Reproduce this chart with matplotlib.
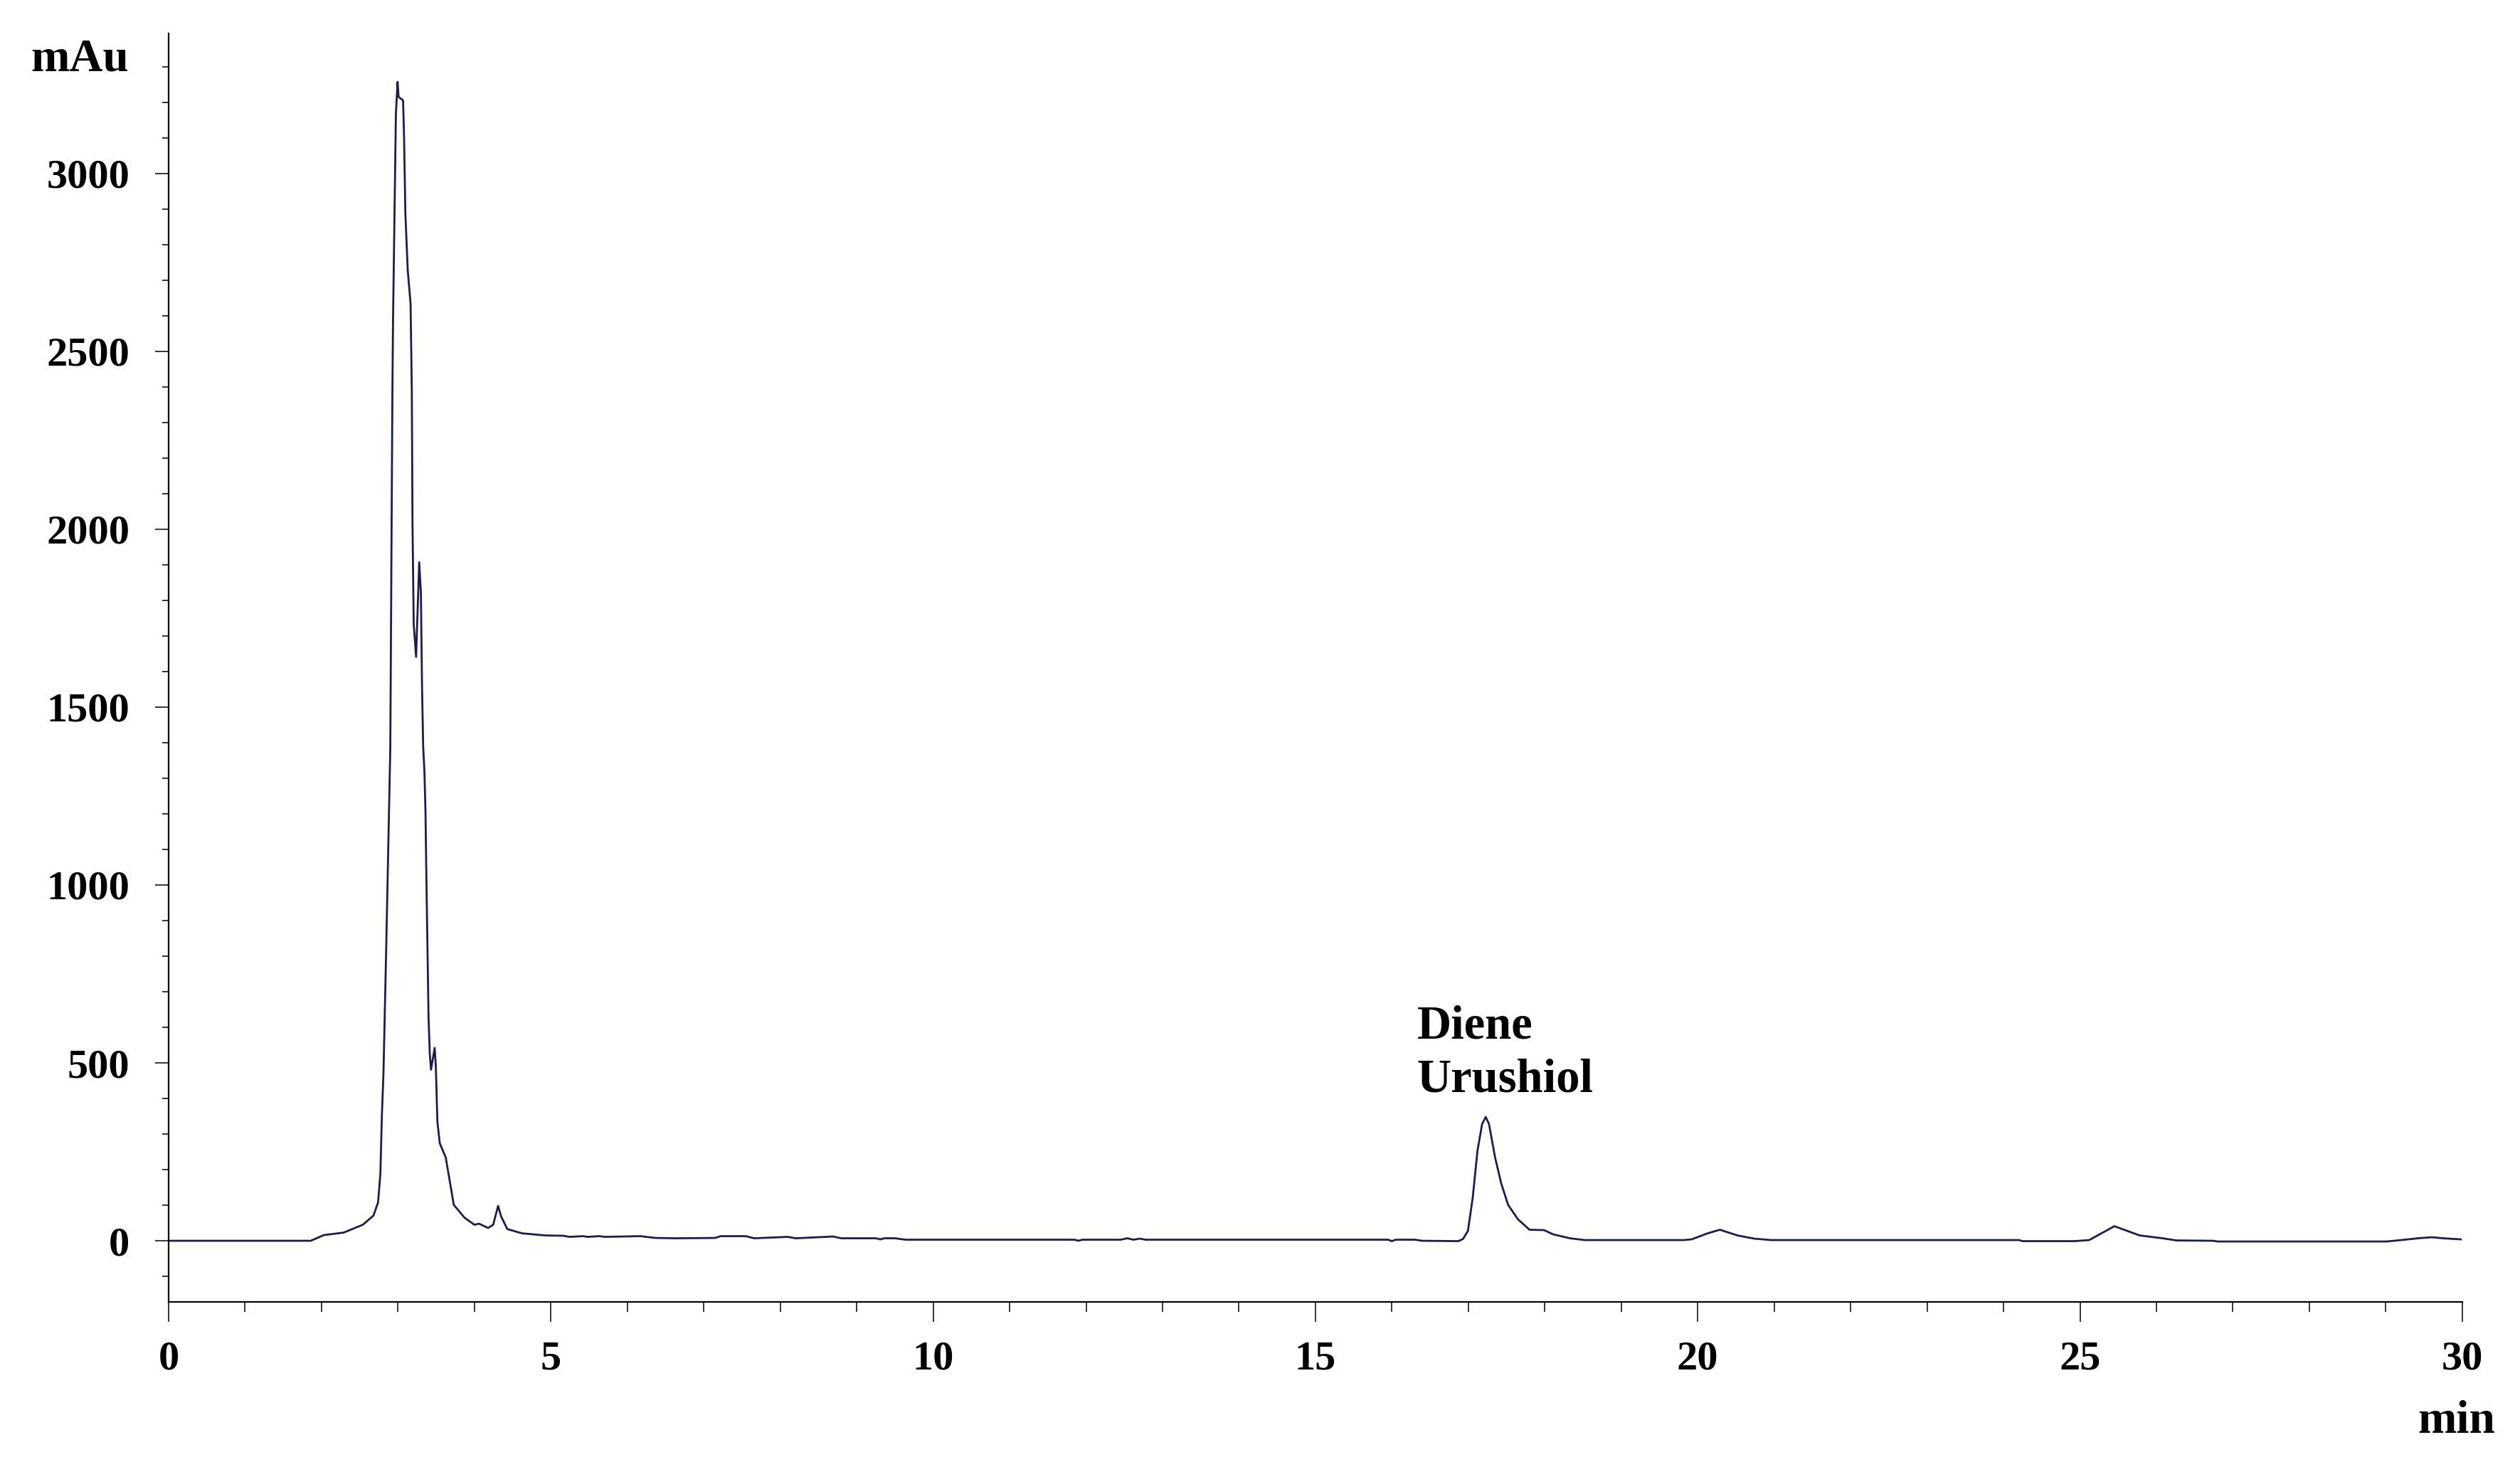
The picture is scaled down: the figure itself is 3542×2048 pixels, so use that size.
import matplotlib
matplotlib.use("Agg")
import matplotlib.pyplot as plt
from matplotlib.ticker import MultipleLocator

# Retention time (min) and absorbance (mAu)
time_min = [0.0, 1.86, 2.03, 2.29, 2.54, 2.68, 2.74, 2.77, 2.79, 2.81, 2.825, 2.843,
            2.865, 2.90, 2.927, 2.936, 2.958, 2.973, 2.995, 3.008, 3.067, 3.08,
            3.097, 3.128, 3.165, 3.181, 3.19, 3.206, 3.237, 3.278, 3.30, 3.315,
            3.33, 3.346, 3.36, 3.37, 3.386, 3.40, 3.416, 3.432, 3.48, 3.495,
            3.516, 3.547, 3.625, 3.73, 3.87, 4.00, 4.06, 4.18, 4.245, 4.31, 4.35,
            4.43, 4.62, 4.93, 5.17, 5.24, 5.42, 5.48, 5.64, 5.70, 6.17, 6.37,
            6.63, 7.15, 7.22, 7.55, 7.66, 8.10, 8.20, 8.69, 8.80, 9.25, 9.31,
            9.36, 9.50, 9.64, 11.85, 11.9, 11.95, 12.45, 12.54, 12.62, 12.70,
            12.78, 15.95, 16.0, 16.05, 16.30, 16.40, 16.87, 16.93, 16.995,
            17.057, 17.12, 17.18, 17.228, 17.27, 17.35, 17.43, 17.52, 17.646,
            17.80, 17.99, 18.11, 18.33, 18.52, 19.82, 19.92, 20.13, 20.29, 20.52,
            20.74, 20.96, 24.2, 24.25, 24.93, 25.12, 25.45, 25.78, 26.08, 26.26,
            26.74, 26.8, 29.01, 29.2, 29.42, 29.6, 29.75, 29.98]
signal_mau = [0, 0, 16, 23, 45, 71, 108, 188, 354, 468, 612, 788,
              1021, 1387, 2380, 2594, 2940, 3167, 3257, 3215, 3205, 3100,
              2887, 2727, 2634, 2390, 2021, 1734, 1641, 1907, 1821, 1554,
              1387, 1321, 1207, 1047, 821, 628, 527, 481, 542, 491,
              334, 274, 234, 101, 65, 45, 48, 36, 45, 98, 68,
              33, 21, 15, 14, 11, 13, 11, 13, 11, 13, 8,
              7, 8, 13, 13, 7, 11, 7, 12, 7, 7, 4,
              7, 7, 3, 3, 0, 3, 3, 7, 3, 6,
              3, 3, -1, 3, 3, 0, -1, 5, 28,
              121, 254, 328, 348, 328, 234, 161, 101, 61,
              31, 30, 18, 7, 2, 2, 4, 21, 31, 15,
              6, 2, 2, -1, -1, 2, 41, 15, 7, 1,
              0, -2, -2, 2, 7, 10, 7, 4]

x_ticks = [0, 5, 10, 15, 20, 25, 30]
y_ticks = [0, 500, 1000, 1500, 2000, 2500, 3000]
peak_label = ["Diene", "Urushiol"]

FONT = "Liberation Serif"
LINE_COLOR = "#1c1c4f"

fig = plt.figure(figsize=(35.42, 20.48), dpi=100)
ax = fig.add_axes([0.0669, 0.1064, 0.9102, 0.8706])

ax.plot(time_min, signal_mau, color=LINE_COLOR, linewidth=2.0, solid_joinstyle="round")

ax.set_xlim(0, 30)
ax.set_ylim(-172, 3393)

for side in ("top", "right"):
    ax.spines[side].set_visible(False)
for side in ("left", "bottom"):
    ax.spines[side].set_linewidth(1.6)
    ax.spines[side].set_color("black")

ax.set_xticks(x_ticks)
ax.set_xticklabels([str(v) for v in x_ticks])
ax.set_yticks(y_ticks)
ax.set_yticklabels([str(v) for v in y_ticks])
ax.xaxis.set_minor_locator(MultipleLocator(1))
ax.yaxis.set_minor_locator(MultipleLocator(100))

ax.tick_params(axis="x", which="major", direction="out", length=20, width=1.1, pad=19)
ax.tick_params(axis="x", which="minor", direction="out", length=10, width=1.1)
ax.tick_params(axis="y", which="major", direction="out", length=13.5, width=1.1, pad=26)
ax.tick_params(axis="y", which="minor", direction="out", length=6.5, width=1.1)

for lab in ax.get_xticklabels() + ax.get_yticklabels():
    lab.set_fontfamily(FONT)
    lab.set_fontweight("bold")
    lab.set_fontsize(42)

# Axis unit labels
fig.text(181 / 3542, 1 - 99 / 2048, "mAu", ha="right", va="baseline",
         fontfamily=FONT, fontweight="bold", fontsize=47)
fig.text(3453 / 3542, 1 - 2014 / 2048, "min", ha="center", va="baseline",
         fontfamily=FONT, fontweight="bold", fontsize=47)

# Peak annotation
ax.text(16.33, 568, peak_label[0], ha="left", va="baseline",
        fontfamily=FONT, fontweight="bold", fontsize=48)
ax.text(16.33, 420, peak_label[1], ha="left", va="baseline",
        fontfamily=FONT, fontweight="bold", fontsize=48)

fig.savefig("out.png", dpi=100, facecolor="white")
